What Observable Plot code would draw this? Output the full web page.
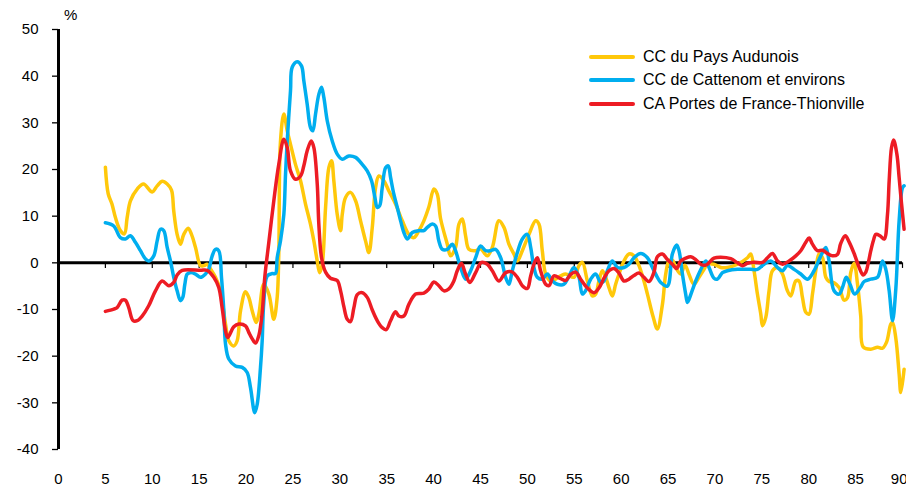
<!DOCTYPE html>
<html>
<head>
<meta charset="utf-8">
<script src="https://cdn.jsdelivr.net/npm/d3@7"></script>
<script src="https://cdn.jsdelivr.net/npm/@observablehq/plot@0.6"></script>
<style>
  html, body { margin: 0; padding: 0; background: #fff; }
  #wrap { position: relative; width: 906px; height: 486px; font-family: "Liberation Sans", Arial, sans-serif; color: #000; }
  #pct { position: absolute; left: 64px; top: 6px; font-size: 15px; }
  #legend { position: absolute; left: 589px; top: 45px; }
  .row { display: flex; align-items: center; height: 23.5px; font-size: 16px; white-space: nowrap; }
  .sw { width: 46px; height: 4px; margin-right: 8px; border-radius: 2px; }
</style>
</head>
<body>
<div id="wrap">
  <div id="chart"></div>
  <div id="pct">%</div>
  <div id="legend"></div>
</div>
<script>
const seriesNames = ["CC du Pays Audunois", "CC de Cattenom et environs", "CA Portes de France-Thionville"];
const seriesColors = ["#FFC80A", "#00AEEF", "#ED1C24"];
const xTicks = [0,5,10,15,20,25,30,35,40,45,50,55,60,65,70,75,80,85,90];
const yTicks = [50,40,30,20,10,0,-10,-20,-30,-40];

const audunois = [
[5.0,20.5],[5.3,14.8],[5.7,12.6],[6.07,9.7],[6.6,6.9],[7.03,6.2],[7.32,9.7],[7.67,13.3],[8.39,15.8],[9.06,16.9],
[9.99,15.2],[10.52,16.5],[11.05,17.5],[11.59,16.9],[12.05,15.6],[12.29,11.1],[12.65,6.1],[13.0,4.0],[13.36,6.1],[13.83,7.4],
[14.18,6.1],[14.61,3.3],[15.14,-0.6],[15.49,-0.6],[15.85,-0.3],[16.21,-1.3],[16.74,-3.1],[17.27,-6.0],[17.81,-13.1],[18.16,-16.7],
[18.69,-17.8],[19.05,-16.7],[19.41,-10.3],[19.94,-6.2],[20.29,-7.4],[20.66,-10.3],[21.08,-12.8],[21.36,-11.0],[21.89,-4.6],[22.43,-6.7],
[22.96,-12.1],[23.32,-7.4],[23.49,1.9],[23.67,26.0],[24.03,31.9],[24.39,28.3],[24.74,25.4],[25.27,21.1],[25.81,17.6],[26.34,12.6],
[26.87,8.3],[27.23,4.7],[27.59,0.4],[27.84,-2.1],[28.12,-0.3],[28.48,11.9],[28.83,20.4],[29.12,21.9],[29.36,17.6],[29.72,10.4],
[30.08,6.9],[30.26,10.4],[30.61,14.0],[31.14,15.1],[31.68,13.3],[32.21,9.0],[32.74,4.7],[33.1,2.2],[33.46,7.6],[33.81,16.1],
[34.16,18.6],[34.7,17.6],[35.23,15.4],[35.94,12.6],[36.66,9.0],[37.36,6.1],[37.9,5.4],[38.43,6.9],[38.96,9.0],[39.5,12.0],
[40.03,15.8],[40.39,14.7],[40.74,9.5],[41.46,4.0],[41.81,1.5],[42.34,3.3],[42.7,8.3],[43.06,9.4],[43.41,5.8],[43.76,2.9],
[44.48,2.6],[45.0,3.0],[45.73,1.5],[46.26,3.3],[46.96,9.0],[47.5,7.6],[48.03,4.0],[48.56,1.9],[48.93,0.4],[49.46,2.6],
[50.17,6.1],[50.88,9.0],[51.23,8.3],[51.59,2.6],[51.95,-2.4],[52.48,-3.9],[53.55,-2.8],[54.08,-2.4],[54.97,-3.1],[55.5,-0.6],
[55.86,0.1],[56.4,-3.9],[56.93,-7.1],[57.28,-6.7],[57.63,-3.9],[58.0,-1.7],[58.35,-3.1],[58.7,-5.3],[59.06,-7.1],[59.41,-4.6],
[59.77,-2.4],[60.3,0.4],[60.83,1.9],[61.37,1.5],[61.9,-0.6],[62.43,-3.9],[62.8,-6.7],[63.4,-11.5],[63.86,-14.2],[64.4,-8.9],
[64.75,-2.4],[65.1,0.4],[65.46,0.6],[65.82,-1.0],[66.35,-2.4],[66.8,-0.5],[67.24,-2.5],[67.77,-4.6],[68.3,-3.1],[68.84,-1.4],
[69.2,-0.3],[69.9,-0.3],[70.62,-1.0],[71.33,-1.0],[72.4,-0.3],[73.47,1.1],[73.82,1.9],[74.17,-1.7],[74.53,-6.7],[74.89,-11.0],
[75.07,-13.5],[75.42,-11.7],[75.77,-6.0],[76.13,-1.7],[76.67,-1.0],[77.2,-2.4],[77.73,-6.0],[78.09,-7.1],[78.62,-3.9],[78.97,-3.9],
[79.33,-7.4],[79.69,-10.6],[80.04,-11.0],[80.4,-6.7],[80.75,-1.7],[81.1,1.9],[81.47,1.1],[81.82,-3.1],[82.17,-4.0],[82.71,-4.3],
[83.24,-5.3],[83.77,-8.0],[84.13,-7.5],[84.49,-2.0],[84.84,-0.1],[85.2,-4.5],[85.55,-11.5],[85.8,-18.0],[86.62,-18.5],[87.34,-18.1],
[87.87,-18.3],[88.3,-17.0],[88.76,-13.1],[88.94,-12.8],[89.29,-16.2],[89.64,-23.8],[89.82,-27.8],[90.17,-22.8]
];

const cattenom = [
[5.0,8.6],[5.89,7.9],[6.6,5.4],[7.14,5.1],[7.67,5.8],[8.2,4.4],[8.74,2.6],[9.28,0.8],[9.62,0.4],[10.16,1.5],
[10.52,4.7],[10.87,7.2],[11.22,6.9],[11.59,3.3],[11.94,0.4],[12.29,-3.1],[12.65,-6.0],[13.0,-8.1],[13.25,-7.4],[13.47,-4.6],
[13.72,-2.4],[14.07,-2.1],[14.61,-2.4],[15.14,-3.1],[15.67,-2.4],[16.02,-1.4],[16.39,1.5],[16.74,2.9],[17.09,2.6],[17.38,-3.1],
[17.63,-10.3],[17.81,-17.4],[18.16,-20.6],[18.87,-22.1],[19.59,-22.4],[20.12,-23.5],[20.47,-26.7],[20.93,-32.1],[21.19,-30.3],[21.54,-22.4],
[21.72,-16.7],[21.89,-8.5],[22.26,-2.8],[22.79,-2.3],[23.14,-2.3],[23.32,1.1],[23.67,4.7],[24.03,10.4],[24.21,19.0],[24.39,26.1],
[24.74,36.9],[24.92,41.9],[25.45,43.1],[25.91,42.2],[26.16,39.0],[26.52,34.0],[26.87,29.0],[27.12,28.3],[27.41,31.9],[27.76,36.1],
[28.05,37.6],[28.3,35.4],[28.66,30.4],[29.19,26.1],[29.72,23.3],[30.26,22.2],[30.96,22.9],[31.68,22.6],[32.39,21.1],[32.92,19.7],
[33.38,17.6],[33.74,14.0],[33.99,11.9],[34.24,12.2],[34.52,16.1],[34.88,20.4],[35.16,20.8],[35.41,18.3],[35.76,14.7],[36.12,11.9],
[36.48,9.0],[36.83,6.5],[37.19,5.1],[37.73,6.5],[38.43,6.9],[38.96,6.9],[39.32,7.6],[39.86,8.3],[40.21,7.9],[40.56,4.7],
[40.92,2.9],[41.46,2.9],[41.99,4.0],[42.34,2.6],[42.88,-1.0],[43.41,-3.5],[43.95,-1.7],[44.48,1.1],[45.01,3.6],[45.55,2.6],
[46.08,2.6],[46.61,2.9],[47.15,1.1],[47.68,-3.1],[48.03,-4.6],[48.39,-1.7],[48.93,2.2],[49.46,5.1],[50.0,6.1],[50.35,3.3],
[50.7,-1.0],[51.06,-3.1],[51.59,-3.5],[52.13,-2.4],[52.66,-3.9],[53.2,-4.6],[53.9,-4.6],[54.4,-3.0],[54.97,-1.0],[55.5,-3.1],
[55.86,-6.7],[56.2,-6.0],[56.75,-3.5],[57.28,-2.4],[57.82,-4.2],[58.17,-3.9],[58.53,-1.7],[59.06,0.4],[59.6,-1.0],[60.3,-1.0],
[60.83,-0.3],[61.37,1.1],[62.08,2.0],[62.8,1.1],[63.33,-1.0],[63.86,-3.1],[64.22,-4.2],[64.93,-5.0],[65.46,1.9],[65.92,3.8],
[66.17,2.6],[66.53,-2.4],[66.88,-6.7],[67.06,-8.5],[67.24,-7.8],[67.6,-5.8],[67.95,-3.9],[68.48,-1.5],[69.02,0.4],[69.37,-1.0],
[69.9,-3.3],[70.27,-3.5],[70.8,-2.1],[71.33,-1.7],[72.4,-1.4],[73.82,-1.4],[74.53,-1.4],[75.24,-0.3],[75.95,0.4],[76.67,-1.0],
[77.2,-1.7],[77.73,-0.6],[78.44,-1.4],[79.15,-2.4],[79.87,-3.5],[80.57,-1.7],[81.29,1.5],[81.82,3.3],[82.17,0.4],[82.7,-6.0],
[83.24,-6.7],[83.6,-5.3],[84.0,-3.1],[84.4,-4.6],[84.9,-6.7],[85.5,-5.3],[85.91,-4.0],[86.62,-3.5],[87.34,-3.1],[87.87,0.4],
[88.22,-1.4],[88.58,-6.0],[88.94,-12.4],[89.29,-5.5],[89.64,9.0],[90.0,16.1],[90.17,16.5]
];

const thionville = [
[5.0,-10.4],[5.89,-9.9],[6.25,-9.6],[6.78,-8.0],[7.14,-8.0],[7.49,-9.6],[7.96,-12.4],[8.39,-12.4],[8.92,-11.4],[9.62,-9.2],
[10.34,-6.0],[11.05,-3.9],[11.76,-4.9],[12.29,-4.2],[12.65,-2.6],[13.19,-1.6],[15.14,-1.6],[15.85,-1.6],[16.56,-3.1],[17.09,-5.3],
[17.45,-9.6],[17.81,-14.6],[18.05,-16.0],[18.69,-13.7],[19.23,-13.1],[19.94,-13.5],[20.29,-14.9],[20.66,-16.3],[21.01,-17.2],[21.36,-15.6],
[21.72,-10.7],[22.0,-3.0],[22.43,4.4],[22.96,13.3],[23.49,21.1],[24.03,26.5],[24.39,24.7],[24.74,19.7],[25.27,17.9],[25.81,18.6],
[26.16,20.8],[26.52,24.0],[26.95,26.1],[27.23,24.7],[27.59,16.9],[27.76,8.3],[28.05,1.1],[28.48,-2.0],[29.0,-3.3],[29.72,-3.8],
[30.08,-6.0],[30.43,-9.4],[30.79,-12.1],[31.14,-12.6],[31.5,-9.6],[31.86,-6.8],[32.39,-6.4],[32.92,-7.4],[33.46,-10.1],[33.99,-12.4],
[34.52,-13.9],[34.95,-14.3],[35.41,-12.4],[35.94,-10.5],[36.3,-11.4],[36.83,-11.4],[37.36,-8.9],[38.08,-6.7],[38.96,-6.5],[39.5,-5.6],
[40.03,-4.1],[40.56,-4.9],[41.1,-6.0],[41.63,-5.6],[42.16,-3.9],[42.52,-1.7],[42.95,-0.1],[43.41,-2.4],[43.87,-4.2],[44.48,-2.1],
[45.1,0.1],[45.73,-0.3],[46.26,-1.7],[46.96,-3.9],[47.68,-2.1],[48.3,-1.9],[48.93,-3.1],[49.46,-4.9],[49.99,-5.5],[50.35,-2.8],
[50.7,-0.3],[51.06,1.1],[51.41,-1.7],[51.95,-4.6],[52.3,-4.9],[52.83,-2.8],[53.55,-3.4],[54.08,-3.8],[54.61,-2.5],[55.15,-2.0],
[55.68,-3.5],[56.4,-5.4],[57.1,-6.4],[57.63,-5.4],[58.17,-3.3],[58.7,-1.7],[59.23,-1.2],[59.77,-2.2],[60.3,-3.9],[60.83,-3.5],
[61.37,-2.7],[61.9,-2.2],[62.43,-3.1],[62.97,-4.0],[63.5,-2.0],[63.86,1.3],[64.4,1.9],[64.93,0.7],[65.46,-0.3],[65.92,-1.2],
[66.35,0.4],[66.88,1.0],[67.42,1.3],[67.95,0.7],[68.48,-0.3],[69.02,-0.5],[69.9,1.0],[70.62,1.2],[71.68,0.9],[72.4,0.0],
[72.93,-0.6],[73.47,-0.1],[74.17,0.1],[75.07,0.1],[75.6,1.1],[76.13,2.0],[76.67,0.4],[77.2,-0.3],[77.91,0.4],[78.62,1.5],
[79.15,2.6],[79.69,4.4],[80.04,5.3],[80.4,4.0],[80.93,2.6],[81.47,2.7],[82.0,2.0],[82.53,1.5],[83.06,1.8],[83.42,4.2],
[83.9,5.8],[84.3,4.5],[84.84,2.0],[85.38,-1.0],[85.8,-2.6],[86.09,-2.0],[86.35,0.0],[86.62,2.6],[86.9,4.8],[87.16,6.1],
[87.6,5.8],[88.04,5.1],[88.4,10.4],[88.58,17.6],[88.83,24.7],[89.05,26.3],[89.4,23.3],[89.64,18.3],[89.9,12.6],[90.17,7.2]
];

const seriesData = [audunois, cattenom, thionville];

const lineMarks = seriesData.map((data, i) =>
  Plot.line(data, {
    x: d => d[0], y: d => d[1],
    stroke: seriesColors[i], strokeWidth: 3.5,
    curve: "catmull-rom", strokeLinejoin: "round", strokeLinecap: "round"
  })
);

const lastTick = xTicks[xTicks.length - 1];
const innerTicks = xTicks.slice(0, -1);

const chart = Plot.plot({
  width: 906,
  height: 486,
  marginLeft: 58,
  marginRight: 4,
  marginTop: 29,
  marginBottom: 37,
  x: { domain: [0, 90] },
  y: { domain: [-40, 50] },
  style: { fontFamily: "'Liberation Sans', Arial, sans-serif", fontSize: "15px", color: "#000", background: "#fff" },
  marks: [
    Plot.axisY({ ticks: yTicks, tickSize: 6, tickPadding: 14, tickFormat: d => String(d), fontSize: 15, label: null, strokeWidth: 1.3 }),
    Plot.axisX({ ticks: innerTicks, tickSize: 0, tickPadding: 24, tickFormat: d => String(d), fontSize: 15, label: null }),
    Plot.axisX({ ticks: [lastTick], tickSize: 0, tickPadding: 24, tickFormat: d => String(d), fontSize: 15, label: null, textAnchor: "end", dx: 5 }),
    Plot.ruleX(xTicks, { x: d => d, y1: 0, y2: -1.2, strokeWidth: 1.2, stroke: "#000" }),
    Plot.ruleY([0], { stroke: "#000", strokeWidth: 3 }),
    Plot.ruleX([0], { stroke: "#000", strokeWidth: 3 }),
    ...lineMarks
  ]
});
document.getElementById("chart").appendChild(chart);

const legend = document.getElementById("legend");
seriesNames.forEach((name, i) => {
  const row = document.createElement("div");
  row.className = "row";
  const sw = document.createElement("div");
  sw.className = "sw";
  sw.style.background = seriesColors[i];
  const label = document.createElement("span");
  label.textContent = name;
  row.appendChild(sw);
  row.appendChild(label);
  legend.appendChild(row);
});
</script>
</body>
</html>
